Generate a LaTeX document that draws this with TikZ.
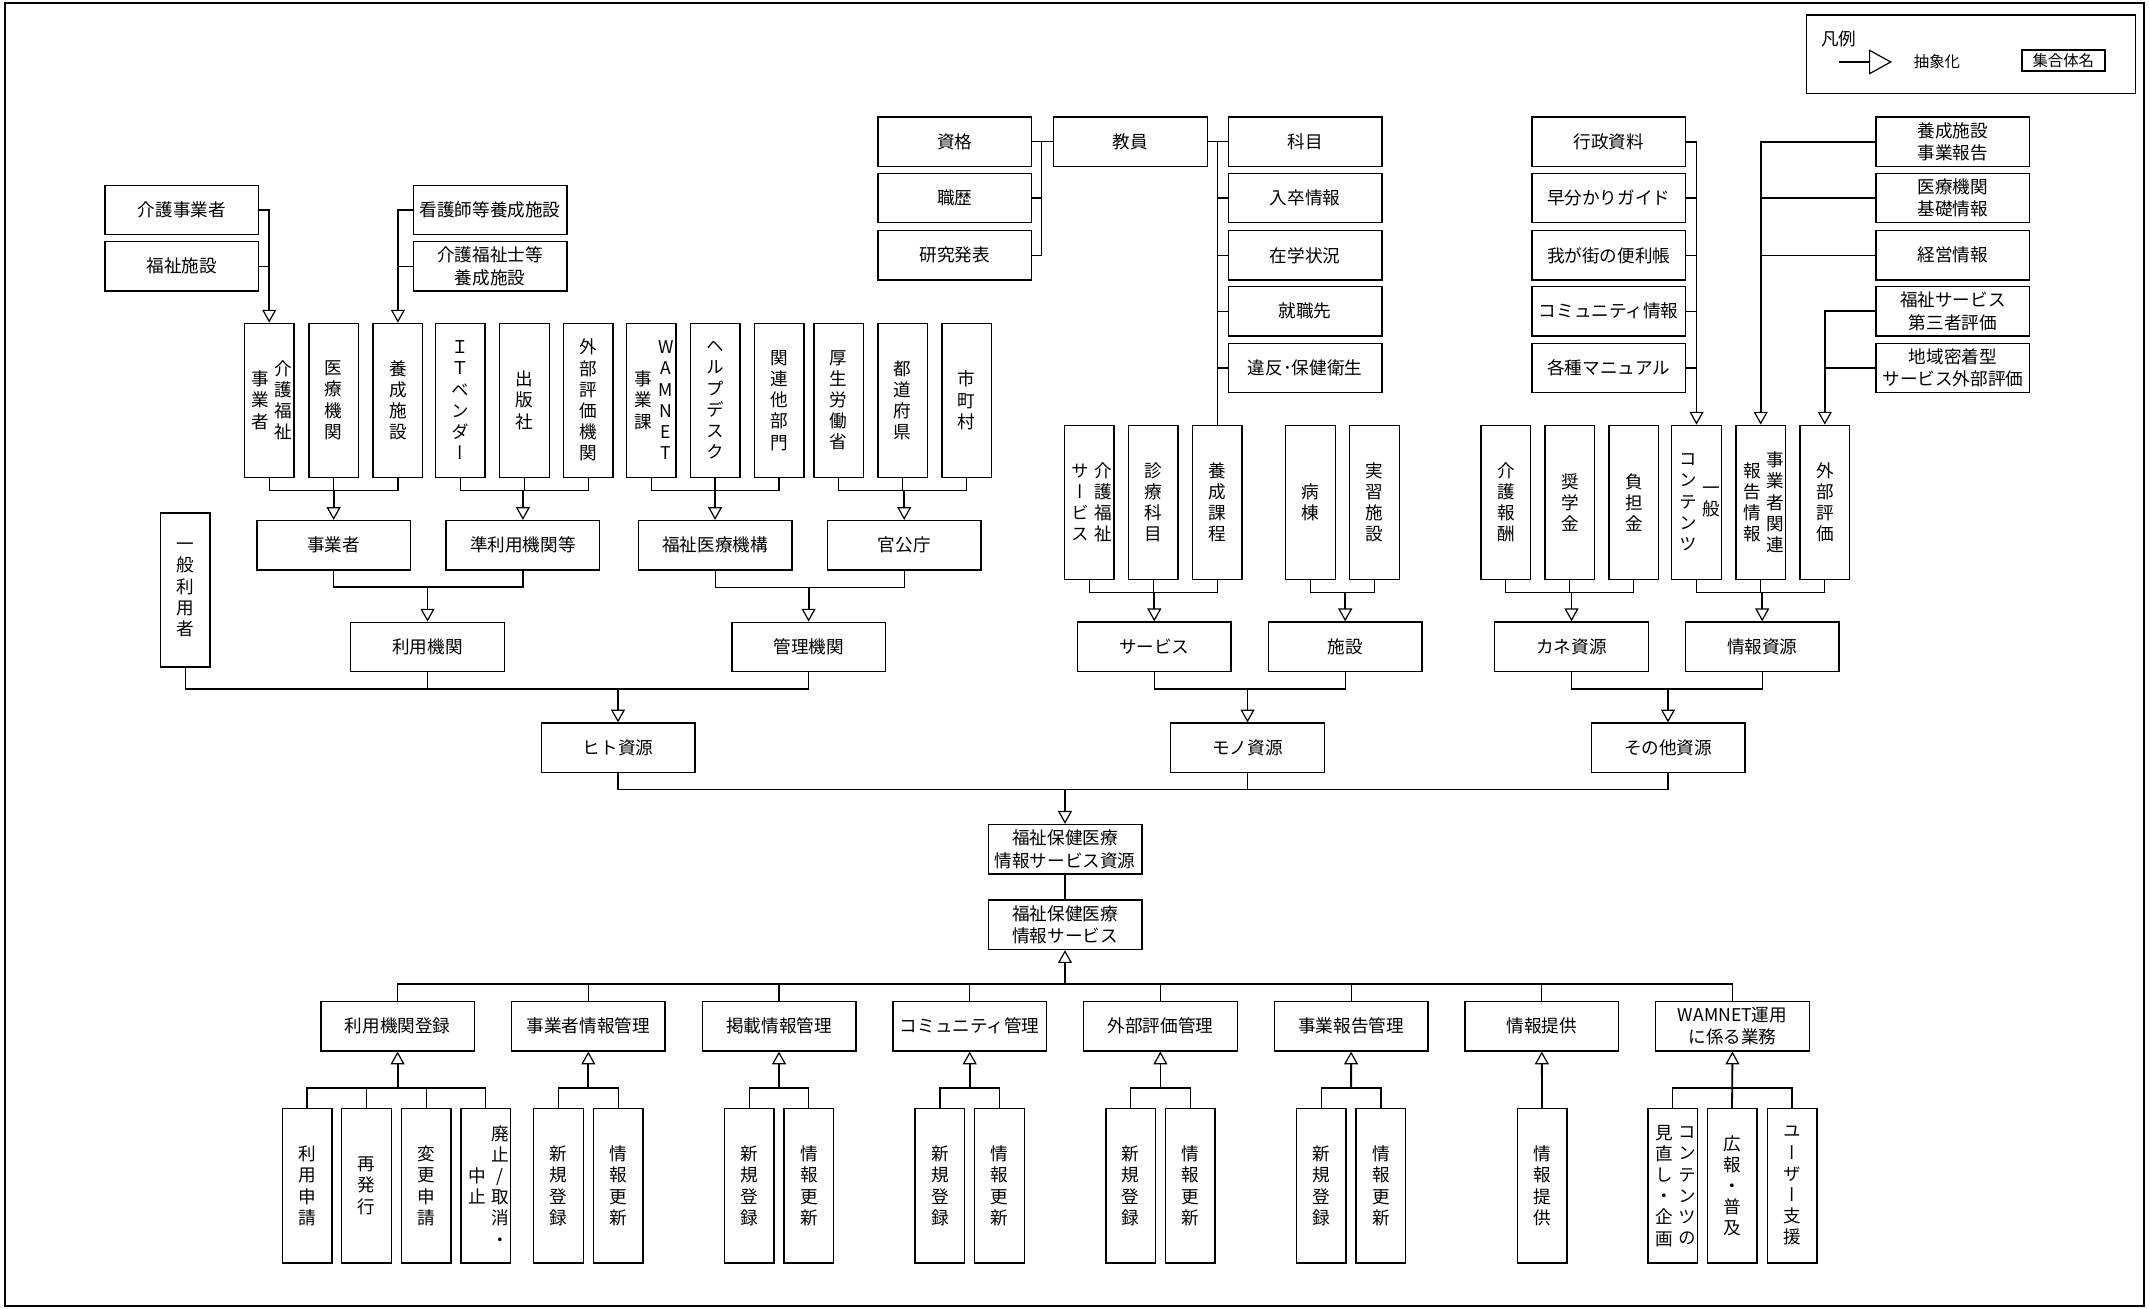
\documentclass[tikz,border=0pt]{standalone}
\usepackage{fontspec}
\usetikzlibrary{arrows.meta}
\newfontfamily\jp{Noto Sans CJK JP}
\newfontfamily\jpv[RawFeature=+vert]{Noto Sans CJK JP}
\newcommand\jpfont{\jp\fontsize{8.8pt}{11.2pt}\selectfont}
\newcommand\jpvfont{\jpv\fontsize{8.8pt}{10.6pt}\selectfont}
\newcommand\jpsmall{\jp\fontsize{7.7pt}{9pt}\selectfont}
\makeatletter
\newcommand\tcol[1]{\vbox{\baselineskip=10.6pt\lineskiplimit=-\maxdimen\tcol@loop#1\relax}}
\def\tcol@loop#1{\ifx\relax#1\else\hbox to 9pt{\hss#1\hss}\expandafter\tcol@loop\fi}
\newcommand\ttwo[2]{\hskip3pt$\vcenter{\tcol{#1}}\hskip2.5pt\vcenter{\tcol{#2}}$}
\makeatother

\begin{document}
\begin{tikzpicture}[x=0.5pt, y=-0.5pt,
  hbox/.style={draw, line width=0.7pt, minimum width=76.8pt, minimum height=24.7pt,
    inner sep=0pt, align=center, font=\jpfont},
  vbox/.style={draw, line width=0.7pt, minimum width=24.8pt, minimum height=77pt,
    inner sep=0pt, font=\jpvfont},
  link/.style={line width=0.6pt},
  abs/.style={line width=0.9pt, -{Triangle[open, length=6.4pt, width=7pt, line width=0.6pt]}}]
  \useasboundingbox (0,0) rectangle (2149,1309);
  \draw[line width=0.7pt] (5,3) rectangle (2144,1306);

  % Legend
  \node[draw, line width=0.7pt, minimum width=164.5pt, minimum height=39.2pt] (legend) at (1971.2,54.2) {};
  \node[font=\jpfont, anchor=west] (legtitle) at (1814,39) {凡例};
  \coordinate (legA) at (1839,62);
  \coordinate (legB) at (1892,62);
  \draw[line width=0.6pt, -{Triangle[open, length=11.5pt, width=12.5pt, line width=0.6pt]}] (legA) -- (legB);
  \node[font=\jpsmall] (legabs) at (1937,62) {抽象化};
  \node[draw, line width=1pt, minimum width=41.7pt, minimum height=10.4pt, inner sep=0pt,
    font=\jpsmall] (legset) at (2063.3,60.3) {集合体名};

  % Top left sources
  \node[hbox] (kaigoj) at (181.8,210) {介護事業者};
  \node[hbox] (fukushis) at (181.8,266.3) {福祉施設};
  \node[hbox] (kangoy) at (490,210) {看護師等養成施設};
  \node[hbox] (kfyosei) at (490,266.3) {介護福祉士等\\養成施設};

  % Row 1
  \node[vbox] (kfj) at (269.2,400.3) {\ttwo{事業者}{介護福祉}};
  \node[vbox] (iryo) at (333.7,400.3) {\tcol{医療機関}};
  \node[vbox] (yoseis) at (397.9,400.3) {\tcol{養成施設}};
  \node[vbox] (itv) at (460.3,400.3) {\tcol{ＩＴベンダー}};
  \node[vbox] (shuppan) at (524.4,400.3) {\tcol{出版社}};
  \node[vbox] (gaibuk) at (588.1,400.3) {\tcol{外部評価機関}};
  \node[vbox] (wam) at (651.3,400.3) {\ttwo{事業課}{WAMNET}};
  \node[vbox] (help) at (715,400.3) {\tcol{ヘルプデスク}};
  \node[vbox] (kanren) at (779,400.3) {\tcol{関連他部門}};
  \node[vbox] (mhlw) at (838.7,400.3) {\tcol{厚生労働省}};
  \node[vbox] (pref) at (902.7,400.3) {\tcol{都道府県}};
  \node[vbox] (city) at (966.7,400.3) {\tcol{市町村}};

  \draw[abs] (kaigoj.east) -| (kfj.north);
  \draw[link] (fukushis.east) -- (fukushis.east -| kfj.north);
  \draw[abs] (kangoy.west) -| (yoseis.north);
  \draw[link] (kfyosei.west) -- (kfyosei.west -| yoseis.north);

  % Hito
  \node[vbox] (ippan) at (185.2,590) {\tcol{一般利用者}};
  \node[hbox] (jigyosha) at (333.6,545.3) {事業者};
  \node[hbox] (junriyo) at (522.9,545.3) {準利用機関等};
  \node[hbox] (wamkiko) at (715.1,545.3) {福祉医療機構};
  \node[hbox] (kankocho) at (904.2,545.3) {官公庁};
  \node[hbox] (riyokikan) at (427.5,647) {利用機関};
  \node[hbox] (kanrikikan) at (808.6,647) {管理機関};
  \node[hbox] (hito) at (618,747.8) {ヒト資源};
  \node[hbox] (mono) at (1247.5,747.8) {モノ資源};
  \node[hbox] (sonota) at (1668,747.8) {その他資源};

  \coordinate (bJ) at (333.6,490.7);
  \coordinate (bN) at (522.9,490.7);
  \coordinate (bW) at (715.1,490.7);
  \coordinate (bK) at (904.2,490.7);
  \foreach \a/\m/\z/\b/\t in {kfj/iryo/yoseis/bJ/jigyosha, itv/shuppan/gaibuk/bN/junriyo,
      wam/help/kanren/bW/wamkiko, mhlw/pref/city/bK/kankocho} {
    \draw[link] (\a.south) |- (\b) -| (\z.south);
    \draw[link] (\m.south) -- (\m.south |- \b);
    \draw[abs] (\b) -- (\t.north);
  }
  \coordinate (bR) at (427.5,587);
  \draw[link] (jigyosha.south) |- (bR) -| (junriyo.south);
  \draw[abs] (bR) -- (riyokikan.north);
  \coordinate (bM) at (808.6,587.7);
  \draw[link] (wamkiko.south) |- (bM) -| (kankocho.south);
  \draw[abs] (bM) -- (kanrikikan.north);
  \coordinate (bH) at (618,689);
  \draw[link] (ippan.south) |- (bH) -| (kanrikikan.south);
  \draw[link] (riyokikan.south) -- (riyokikan.south |- bH);
  \draw[abs] (bH) -- (hito.north);

  % Teachers and subjects
  \node[hbox] (shikaku) at (954.9,141.7) {資格};
  \node[hbox] (shokureki) at (954.9,198) {職歴};
  \node[hbox] (kenkyu) at (954.9,255.3) {研究発表};
  \node[hbox] (kyoin) at (1130.5,141.7) {教員};
  \node[hbox] (kamoku) at (1305,141.7) {科目};
  \node[hbox] (nyusotsu) at (1305,198) {入卒情報};
  \node[hbox] (zaigaku) at (1305,255.3) {在学状況};
  \node[hbox] (shushoku) at (1305,311.3) {就職先};
  \node[hbox] (ihan) at (1305,368) {違反･保健衛生};
  \coordinate (kyL) at (1041.8,141.7);
  \coordinate (kyR) at (1217.2,141.7);
  \draw[link] (shikaku.east) -- (kyoin.west);
  \draw[link] (kenkyu.east) -| (kyL);
  \draw[link] (shokureki.east) -- (shokureki.east -| kyL);
  \draw[link] (kyoin.east) -- (kamoku.west);

  % Row 2
  \node[vbox] (kfs) at (1089.2,502.3) {\ttwo{サービス}{介護福祉}};
  \node[vbox] (shinryo) at (1153.2,502.3) {\tcol{診療科目}};
  \node[vbox] (yoseik) at (1217.2,502.3) {\tcol{養成課程}};
  \node[vbox] (byoto) at (1310.5,502.3) {\tcol{病棟}};
  \node[vbox] (jisshu) at (1374.5,502.3) {\tcol{実習施設}};
  \node[vbox] (kaigoh) at (1505.8,502.3) {\tcol{介護報酬}};
  \node[vbox] (shogaku) at (1569.8,502.3) {\tcol{奨学金}};
  \node[vbox] (futan) at (1633.8,502.3) {\tcol{負担金}};
  \node[vbox] (ippanc) at (1696.5,502.3) {\ttwo{コンテンツ}{一般}};
  \node[vbox] (jigyok) at (1760.7,502.3) {\ttwo{報告情報}{事業者関連}};
  \node[vbox] (gaibuh) at (1824.8,502.3) {\tcol{外部評価}};

  \draw[link] (kyR) -- (yoseik.north);
  \foreach \n in {nyusotsu,zaigaku,shushoku,ihan}
    \draw[link] (\n.west) -- (\n.west -| kyR);

  % Right sources
  \node[hbox] (gyosei) at (1608.7,141.7) {行政資料};
  \node[hbox] (hayawakari) at (1608.7,198) {早分かりガイド};
  \node[hbox] (wagamachi) at (1608.7,255.3) {我が街の便利帳};
  \node[hbox] (commu) at (1608.7,311.3) {コミュニティ情報};
  \node[hbox] (manual) at (1608.7,368) {各種マニュアル};
  \node[hbox] (yoseij) at (1952.8,141.7) {養成施設\\事業報告};
  \node[hbox] (iryok) at (1952.8,198) {医療機関\\基礎情報};
  \node[hbox] (keiei) at (1952.8,255.3) {経営情報};
  \node[hbox] (daisan) at (1952.8,311.3) {福祉サービス\\第三者評価};
  \node[hbox] (chiiki) at (1952.8,368) {地域密着型\\サービス外部評価};

  \draw[abs] (gyosei.east) -| (ippanc.north);
  \foreach \n in {hayawakari,wagamachi,commu,manual}
    \draw[link] (\n.east) -- (\n.east -| ippanc.north);
  \draw[abs] (yoseij.west) -| (jigyok.north);
  \foreach \n in {iryok,keiei}
    \draw[link] (\n.west) -- (\n.west -| jigyok.north);
  \draw[abs] (daisan.west) -| (gaibuh.north);
  \draw[link] (chiiki.west) -- (chiiki.west -| gaibuh.north);

  % Mono and other resources
  \node[hbox] (service) at (1154.3,646.7) {サービス};
  \node[hbox] (shisetsu) at (1345.2,646.7) {施設};
  \node[hbox] (kane) at (1571.5,646.7) {カネ資源};
  \node[hbox] (joho) at (1762.2,646.7) {情報資源};

  \coordinate (bS) at (1154.3,592.3);
  \coordinate (bC) at (1571.5,592.3);
  \coordinate (bI) at (1762.2,592.3);
  \foreach \a/\m/\z/\b/\t in {kfs/shinryo/yoseik/bS/service, kaigoh/shogaku/futan/bC/kane,
      ippanc/jigyok/gaibuh/bI/joho} {
    \draw[link] (\a.south) |- (\b) -| (\z.south);
    \draw[link] (\m.south) -- (\m.south |- \b);
    \draw[abs] (\b) -- (\t.north);
  }
  \coordinate (bF) at (1345.2,592.3);
  \draw[link] (byoto.south) |- (bF) -| (jisshu.south);
  \draw[abs] (bF) -- (shisetsu.north);
  \coordinate (bO) at (1247.5,689);
  \draw[link] (service.south) |- (bO) -| (shisetsu.south);
  \draw[abs] (bO) -- (mono.north);
  \coordinate (bT) at (1668,689);
  \draw[link] (kane.south) |- (bT) -| (joho.south);
  \draw[abs] (bT) -- (sonota.north);

  % Centre
  \node[hbox] (src) at (1065,849.2) {福祉保健医療\\情報サービス資源};
  \node[hbox] (svc) at (1065,924.8) {福祉保健医療\\情報サービス};
  \coordinate (bX) at (1065,789.7);
  \draw[link] (hito.south) |- (bX) -| (sonota.south);
  \draw[link] (mono.south) -- (mono.south |- bX);
  \draw[abs] (bX) -- (src.north);
  \draw[link] (src.south) -- (svc.north);

  % Tasks
  \foreach \lab [count=\i] in {利用機関登録,事業者情報管理,掲載情報管理,コミュニティ管理,
      外部評価管理,事業報告管理,情報提供,{WAMNET運用\\に係る業務}}
    \node[hbox] (t\i) at ({397.6+190.7*(\i-1)},1026.2) {\lab};
  \coordinate (bU) at (1065,984);
  \draw[abs] (bU) -- (svc.south);
  \draw[link] (t1.north) |- (bU) -| (t8.north);
  \foreach \i in {2,...,7}
    \draw[link] (t\i.north) -- (t\i.north |- bU);

  % Leaves
  \node[vbox] (l11) at (307,1185.8) {\tcol{利用申請}};
  \node[vbox] (l12) at (366.4,1185.8) {\tcol{再発行}};
  \node[vbox] (l13) at (426.1,1185.8) {\tcol{変更申請}};
  \node[vbox] (l14) at (485.8,1185.8) {\ttwo{中止}{廃止/取消・}};
  \coordinate (b1) at (397.6,1088);
  \draw[link] (l11.north) |- (b1) -| (l14.north);
  \draw[link] (l12.north) -- (l12.north |- b1);
  \draw[link] (l13.north) -- (l13.north |- b1);
  \draw[abs] (b1) -- (t1.south);
  \foreach \g/\c in {2/588.3,3/779,4/969.7,5/1160.4,6/1351.1} {
    \node[vbox] (l\g1) at (\c-29.8,1185.8) {\tcol{新規登録}};
    \node[vbox] (l\g2) at (\c+29.8,1185.8) {\tcol{情報更新}};
    \coordinate (b\g) at (\c,1088);
    \draw[link] (l\g1.north) |- (b\g) -| (l\g2.north);
    \draw[abs] (b\g) -- (t\g.south);
  }
  \node[vbox] (l71) at (1542,1185.8) {\tcol{情報提供}};
  \draw[abs] (l71.north) -- (t7.south);
  \node[vbox] (l81) at (1672.7,1185.8) {\ttwo{見直し・企画}{コンテンツの}};
  \node[vbox] (l82) at (1732,1185.8) {\tcol{広報・普及}};
  \node[vbox] (l83) at (1792,1185.8) {\tcol{ユーザー支援}};
  \coordinate (b8) at (1732.5,1088);
  \draw[link] (l81.north) |- (b8) -| (l83.north);
  \draw[abs] (l82.north) -- (t8.south);
\end{tikzpicture}
\end{document}
